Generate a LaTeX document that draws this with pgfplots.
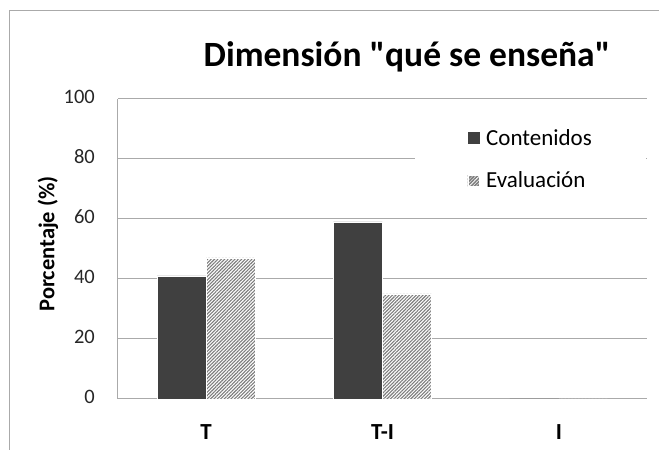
\documentclass[border=0pt]{standalone}
\usepackage{pgfplots}
\pgfplotsset{compat=1.18}
\usepackage{fontspec}
\setmainfont{Carlito}[Ligatures=TeXOff]
\usetikzlibrary{patterns.meta}
\definecolor{cont}{RGB}{64,64,64}
\definecolor{gridc}{RGB}{170,170,170}
\definecolor{hatch}{RGB}{125,125,125}
\begin{document}
\begin{tikzpicture}[x=1pt,y=1pt]
\useasboundingbox (-118,-51) rectangle (541,399);
\draw[color=gridc, line width=1pt] (-108,-51) -- (-108,388) -- (545,388);
\node[anchor=base, font=\fontsize{35.5}{38}\selectfont\bfseries] at (289,332) {Dimensión "qué se enseña"};
\begin{axis}[
  at={(0,0)}, anchor=south west,
  scale only axis, width=529pt, height=300pt,
  ybar=0pt, bar width=49pt,
  xmin=-0.5, xmax=2.5, ymin=0, ymax=100,
  xtick={0,1,2}, xticklabels={T,T-I,I},
  ytick={0,20,40,60,80,100},
  /pgf/number format/assume math mode=true,
  axis x line=bottom, axis y line=left,
  axis line style={color=gridc, line width=1pt, -},
  major tick length=0pt,
  ymajorgrids, grid style={color=gridc, line width=1pt},
  xticklabel style={font=\fontsize{23}{25}\selectfont\bfseries, anchor=base, inner sep=0pt, yshift=-41pt},
  yticklabel style={font=\fontsize{20.5}{22}\selectfont, color=black!85, anchor=east, inner sep=0pt, xshift=-23pt},
  typeset ticklabels with strut=false,
  ylabel={Porcentaje (\%)},
  ylabel style={font=\fontsize{22.5}{24}\selectfont\bfseries, at={(axis description cs:-0.1323,0.517)}, anchor=center},
  legend style={at={(rel axis cs:0.5615,0.933)}, anchor=north west, draw=none, fill=white,
    font=\fontsize{23}{25}\selectfont, inner xsep=52pt, inner ysep=8pt, row sep=21pt},
  legend cell align=left,
  clip=false,
]
\addplot[fill=cont, draw=white, line width=0.6pt,
  legend image code/.code={\fill[cont] (0pt,-5.5pt) rectangle (11pt,5.5pt); \path (16pt,0pt);}]
  coordinates {(0,41) (1,59) (2,0)};
\addplot[draw=white, line width=0.6pt, fill=white, postaction={pattern={Lines[angle=45,distance=2.4pt,line width=1.1pt]}, pattern color=hatch},
  legend image code/.code={\fill[white] (0pt,-5.5pt) rectangle (11pt,5.5pt);
    \fill[pattern={Lines[angle=45,distance=3.5pt,line width=1.2pt]}, pattern color=hatch!70] (0pt,-5.5pt) rectangle (11pt,5.5pt); \path (16pt,0pt);}]
  coordinates {(0,47) (1,35) (2,0)};
\legend{Contenidos, Evaluación}
\end{axis}
\end{tikzpicture}
\end{document}
